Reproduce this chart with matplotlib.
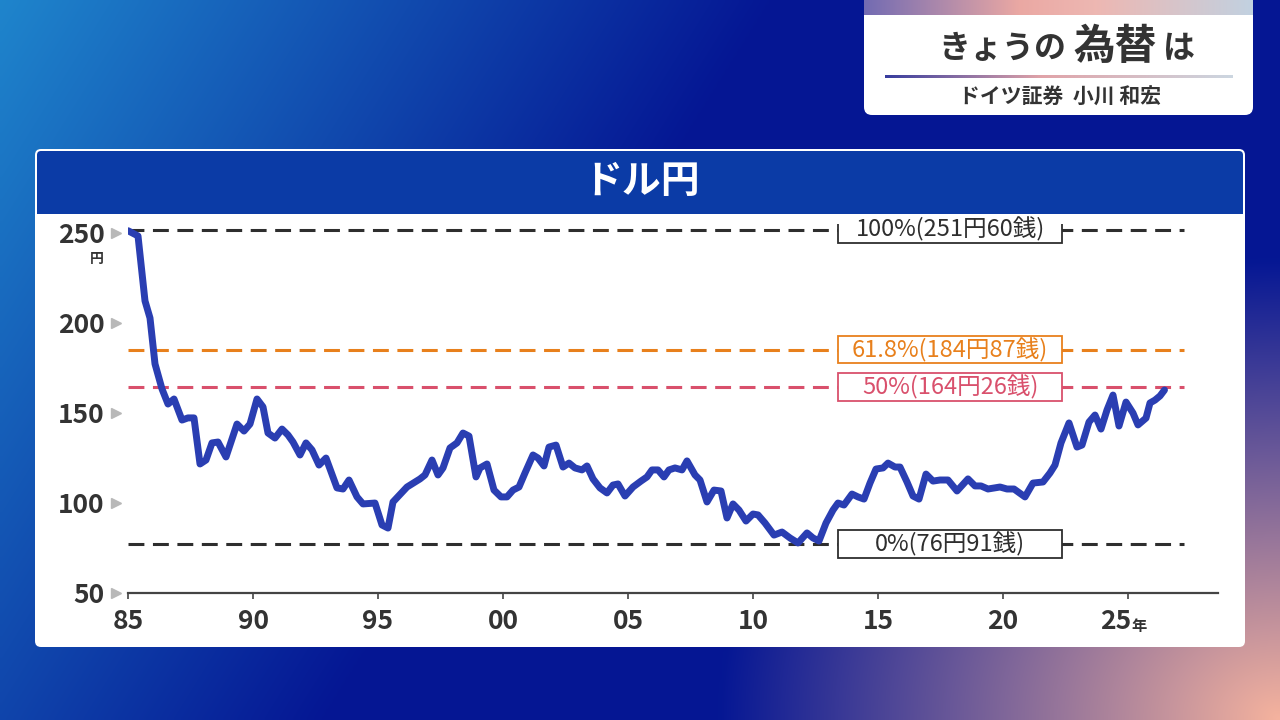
import numpy as np
import matplotlib.pyplot as plt
from matplotlib.patches import FancyBboxPatch, Rectangle
from matplotlib.transforms import blended_transform_factory

plt.rcParams['font.family'] = ['Noto Sans CJK JP', 'DejaVu Sans']

# ドル円 (年, 円)
years = [1985.00, 1985.40, 1985.68, 1985.88, 1986.08, 1986.36, 1986.60, 1986.84,
         1987.16, 1987.40, 1987.64, 1987.88, 1988.12, 1988.36, 1988.60, 1988.92,
         1989.36, 1989.64, 1989.88, 1990.16, 1990.40, 1990.60, 1990.88, 1991.16,
         1991.40, 1991.60, 1991.88, 1992.12, 1992.36, 1992.64, 1992.92, 1993.36,
         1993.60, 1993.84, 1994.16, 1994.40, 1994.88, 1995.16, 1995.40, 1995.60,
         1996.16, 1996.68, 1996.88, 1997.16, 1997.40, 1997.60, 1997.88, 1998.16,
         1998.40, 1998.64, 1998.92, 1999.08, 1999.36, 1999.64, 1999.92, 2000.16,
         2000.40, 2000.64, 2000.88, 2001.20, 2001.40, 2001.64, 2001.84, 2002.12,
         2002.40, 2002.64, 2002.88, 2003.16, 2003.36, 2003.60, 2003.88, 2004.16,
         2004.40, 2004.60, 2004.88, 2005.20, 2005.52, 2005.76, 2005.96, 2006.20,
         2006.44, 2006.64, 2006.88, 2007.16, 2007.36, 2007.68, 2007.88, 2008.16,
         2008.44, 2008.72, 2008.96, 2009.20, 2009.44, 2009.72, 2010.00, 2010.20,
         2010.48, 2010.84, 2011.16, 2011.48, 2011.80, 2012.16, 2012.40, 2012.64,
         2012.92, 2013.20, 2013.40, 2013.64, 2013.96, 2014.20, 2014.44, 2014.68,
         2014.92, 2015.20, 2015.40, 2015.68, 2015.88, 2016.16, 2016.40, 2016.64,
         2016.92, 2017.20, 2017.48, 2017.80, 2018.16, 2018.60, 2018.88, 2019.12,
         2019.40, 2019.88, 2020.16, 2020.44, 2020.88, 2021.20, 2021.60, 2021.88,
         2022.08, 2022.32, 2022.64, 2022.96, 2023.16, 2023.44, 2023.68, 2023.92,
         2024.16, 2024.40, 2024.64, 2024.92, 2025.20, 2025.40, 2025.72, 2025.88,
         2026.08, 2026.28, 2026.46]
usd_jpy = [251.0, 248.1, 212.0, 202.5, 177.0, 163.1, 154.7, 157.5,
           145.8, 147.0, 147.0, 121.4, 123.6, 133.1, 133.6, 125.3,
           143.6, 139.7, 143.6, 157.5, 153.1, 138.6, 135.8, 140.8,
           137.5, 133.6, 126.4, 133.1, 129.2, 120.8, 124.7, 108.1,
           107.5, 112.5, 103.1, 99.2, 99.7, 87.5, 85.8, 100.3,
           108.6, 113.1, 115.3, 123.6, 115.3, 119.2, 130.3, 133.1,
           138.6, 136.9, 114.2, 119.2, 121.4, 106.9, 103.1, 103.1,
           106.9, 108.6, 116.4, 126.4, 124.7, 120.3, 130.8, 131.9,
           119.7, 121.9, 119.2, 118.1, 120.3, 113.1, 108.1, 105.3,
           109.7, 110.3, 103.6, 108.6, 111.9, 114.2, 118.1, 118.1,
           114.2, 118.1, 119.2, 118.1, 123.1, 115.3, 112.5, 100.3,
           106.9, 106.4, 91.4, 99.2, 95.8, 89.7, 93.6, 93.1,
           88.6, 81.9, 83.6, 80.3, 77.5, 83.1, 80.3, 78.6,
           88.6, 95.8, 99.7, 98.6, 104.7, 103.1, 101.9, 110.8,
           118.6, 119.2, 121.9, 119.7, 119.7, 111.4, 103.6, 101.9,
           115.8, 111.9, 112.5, 112.5, 106.4, 113.1, 109.2, 109.2,
           107.5, 108.6, 107.5, 107.5, 103.1, 110.8, 111.4, 116.4,
           120.8, 133.1, 144.2, 130.8, 131.9, 144.7, 148.6, 140.8,
           151.4, 159.7, 142.5, 155.8, 149.7, 143.1, 146.9, 155.3,
           156.9, 159.2, 162.5]

fib_levels = [251.60, 184.87, 164.26, 76.91]
fib_labels = ['100%(251円60銭)', '61.8%(184円87銭)', '50%(164円26銭)', '0%(76円91銭)']
fib_colors = ['#2e2e2e', '#e8801c', '#d9506c', '#2e2e2e']

yticks = [50, 100, 150, 200, 250]
xticks = [1985, 1990, 1995, 2000, 2005, 2010, 2015, 2020, 2025]
xtick_labels = ['85', '90', '95', '00', '05', '10', '15', '20', '25']

fig = plt.figure(figsize=(12.8, 7.2), dpi=100)

# background in pixel coordinates
bg = fig.add_axes([0, 0, 1, 1])
bg.set_xlim(0, 1280)
bg.set_ylim(720, 0)
bg.axis('off')

gx, gy = np.meshgrid(np.linspace(0, 1280, 320), np.linspace(0, 720, 180))
light = np.array([0.12, 0.52, 0.80])
navy = np.array([0.02, 0.09, 0.58])
pink = np.array([0.96, 0.70, 0.62])
s = np.clip((gx / 1280 + 0.35 * gy / 720) / 0.6, 0, 1)[..., None]
img = light * (1 - s) + navy * s
d = np.sqrt(((gx - 1280) / 560) ** 2 + ((gy - 720) / 460) ** 2)
w = (np.clip(1 - d, 0, 1) ** 1.0)[..., None]
img = img * (1 - w) + pink * w
bg.imshow(img, extent=(0, 1280, 720, 0), aspect='auto', interpolation='bilinear', zorder=0)

# main white panel with blue header
bg.add_patch(FancyBboxPatch((35, 149), 1210, 498, boxstyle='round,pad=0,rounding_size=6',
                            fc='white', ec='none', zorder=1))
bg.add_patch(FancyBboxPatch((37, 151), 1206, 63, boxstyle='round,pad=0,rounding_size=4',
                            fc='#0b3ba6', ec='none', zorder=2))
bg.add_patch(Rectangle((37, 190), 1206, 24, fc='#0b3ba6', ec='none', zorder=2))
bg.text(642, 182, 'ドル円', color='white', fontsize=28, fontweight='bold',
        ha='center', va='center', zorder=3)
bg.text(97, 259, '円', color='#333333', fontsize=10, fontweight='bold',
        ha='center', va='center', zorder=3)

# top right title box
bg.add_patch(FancyBboxPatch((864, -12), 389, 127, boxstyle='round,pad=0,rounding_size=8',
                            fc='white', ec='none', zorder=1))
strip = np.array([[0.45, 0.42, 0.70], [0.92, 0.66, 0.64], [0.93, 0.72, 0.70], [0.76, 0.82, 0.88]])
sx = np.linspace(0, 1, 200)
strip_img = np.stack([np.interp(sx, [0, 0.4, 0.6, 1], strip[:, k]) for k in range(3)], axis=-1)[None, :, :]
bg.imshow(strip_img, extent=(864, 1253, 15, 0), aspect='auto', zorder=2)
line_c = np.array([[0.22, 0.24, 0.62], [0.88, 0.64, 0.66], [0.80, 0.84, 0.88]])
line_img = np.stack([np.interp(sx, [0, 0.45, 1], line_c[:, k]) for k in range(3)], axis=-1)[None, :, :]
bg.imshow(line_img, extent=(885, 1233, 78, 75), aspect='auto', zorder=2)
bg.text(1066, 49, 'きょうの', color='#333333', fontsize=23, fontweight='bold',
        ha='right', va='center', zorder=3)
bg.text(1115, 47, '為替', color='#333333', fontsize=30, fontweight='bold',
        ha='center', va='center', zorder=3)
bg.text(1163, 49, 'は', color='#333333', fontsize=23, fontweight='bold',
        ha='left', va='center', zorder=3)
bg.text(1060, 97, 'ドイツ証券  小川 和宏', color='#333333', fontsize=15, fontweight='bold',
        ha='center', va='center', zorder=3)

# chart axes
ax = fig.add_axes([128 / 1280, 1 - 592.5 / 720, 1090 / 1280, 369 / 720])
ax.patch.set_alpha(0)
ax.set_xlim(1985, 2028.6)
ax.set_ylim(50, 255)
for side in ['top', 'right', 'left']:
    ax.spines[side].set_visible(False)
ax.spines['bottom'].set_color('#444444')
ax.spines['bottom'].set_linewidth(1.6)

ax.set_yticks(yticks)
ax.set_yticklabels([str(v) for v in yticks], fontsize=19, color='#333333', fontweight='bold')
ax.tick_params(axis='y', length=0, pad=17)
tr = blended_transform_factory(ax.transAxes, ax.transData)
ax.plot(np.full(len(yticks), -0.011), yticks, transform=tr, marker='>', ls='none',
        ms=7, color='#b8b8b8', clip_on=False)

ax.set_xticks(xticks)
ax.set_xticklabels([''] * len(xticks))
ax.tick_params(axis='x', direction='out', length=4, width=1.2, color='#444444')
for xv, lab in zip(xticks, xtick_labels):
    if lab == '25':
        ax.annotate(lab, xy=(xv + 0.12, 0), xycoords=('data', 'axes fraction'),
                    xytext=(0, -21), textcoords='offset points', ha='right', va='center',
                    fontsize=19, color='#333333', fontweight='bold')
        ax.annotate('年', xy=(xv + 0.12, 0), xycoords=('data', 'axes fraction'),
                    xytext=(0, -24), textcoords='offset points', ha='left', va='center',
                    fontsize=11, color='#333333', fontweight='bold')
    else:
        ax.annotate(lab, xy=(xv, 0), xycoords=('data', 'axes fraction'),
                    xytext=(0, -21), textcoords='offset points', ha='center', va='center',
                    fontsize=19, color='#333333', fontweight='bold')

# retracement levels
for lvl, lab, col in zip(fib_levels, fib_labels, fib_colors):
    ax.plot([1985, 2027.24], [lvl, lvl], color=col, lw=2.2, ls=(0, (5.2, 2.8)), zorder=2)
    ax.add_patch(Rectangle((2013.4, lvl - 7.6), 8.96, 15.2, fc='white', ec=col, lw=1.3, zorder=4))
    ax.text(2017.88, lvl, lab, color=col, fontsize=17, ha='center', va='center', zorder=5)

ax.plot(years, usd_jpy, color='#2a3eb2', lw=5, solid_joinstyle='round',
        solid_capstyle='round', zorder=3)

fig.savefig('out.png', dpi=100)
plt.close()
